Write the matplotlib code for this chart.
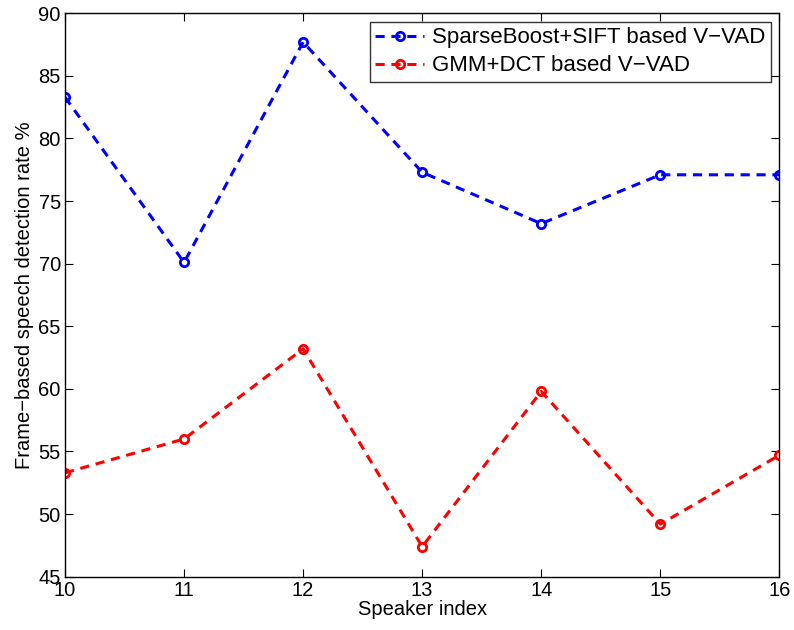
import matplotlib.pyplot as plt

# Values
speakers = [10, 11, 12, 13, 14, 15, 16]
sparseboost_sift = [83.3, 70.1, 87.7, 77.3, 73.2, 77.1, 77.1]
gmm_dct = [53.3, 56.0, 63.2, 47.4, 59.8, 49.2, 54.7]
y_ticks = [45, 50, 55, 60, 65, 70, 75, 80, 85, 90]

plt.rcParams['font.family'] = ['Liberation Sans', 'DejaVu Sans']

fig = plt.figure(figsize=(7.94, 6.30), dpi=100)
ax = fig.add_axes([0.0819, 0.0846, 0.8996, 0.8943])

ax.plot(speakers, sparseboost_sift, color='blue', linestyle='--', linewidth=2.2,
        dashes=(3, 2.2), marker='o', markersize=6, markerfacecolor='none',
        markeredgewidth=2, label='SparseBoost+SIFT based V\u2212VAD')
ax.plot(speakers, gmm_dct, color='red', linestyle='--', linewidth=2.2,
        dashes=(3, 2.2), marker='o', markersize=6, markerfacecolor='none',
        markeredgewidth=2, label='GMM+DCT based V\u2212VAD')

ax.set_xlim(10, 16)
ax.set_ylim(45, 90)
ax.set_xticks(speakers)
ax.set_yticks(y_ticks)
ax.tick_params(direction='in', top=True, right=True, labelsize=14.5, length=6, pad=3)
for s in ax.spines.values():
    s.set_linewidth(1.0)

ax.set_xlabel('Speaker index', fontsize=14.5, labelpad=0)
ax.set_ylabel('Frame\u2212based speech detection rate %', fontsize=14.5, labelpad=3)

leg = ax.legend(loc='upper right', fontsize=16, frameon=True, fancybox=False,
                edgecolor='black', borderpad=0.25, labelspacing=0.32,
                handlelength=2.2, handletextpad=0.35, borderaxespad=0.38)
leg.get_frame().set_linewidth(1.0)

fig.savefig('out.png', dpi=100)
